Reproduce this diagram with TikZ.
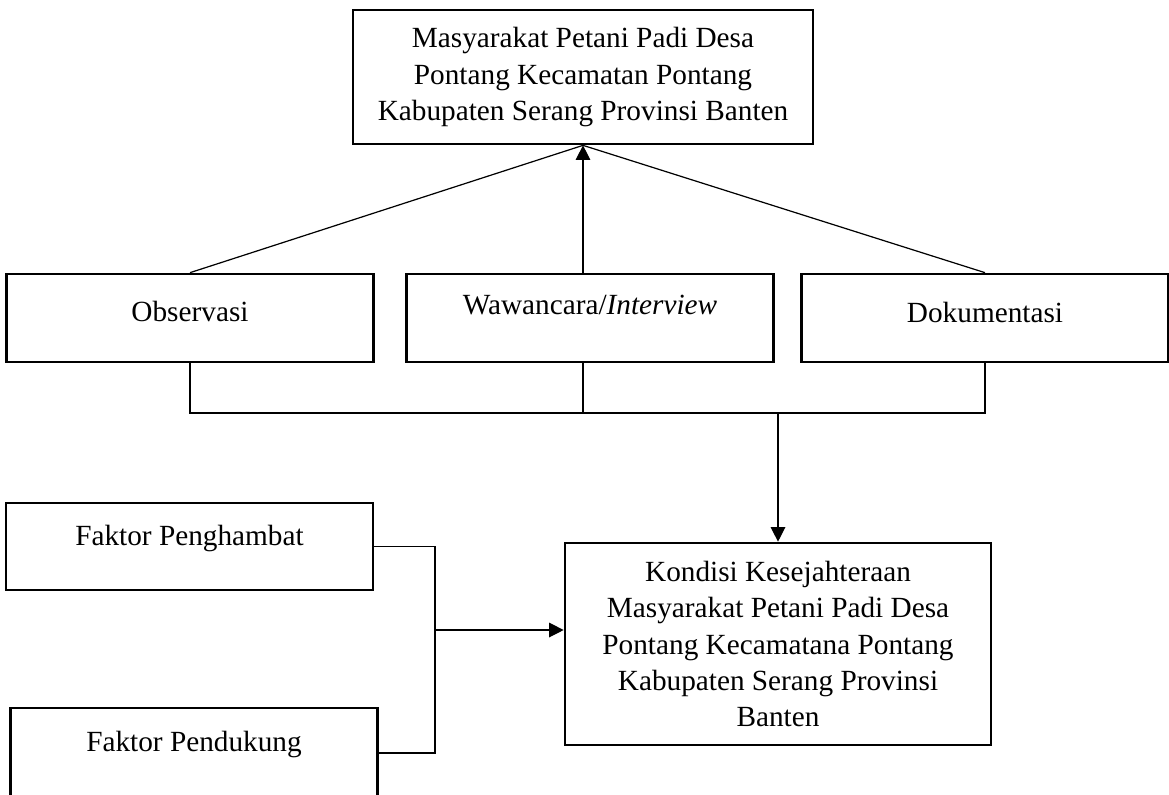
\documentclass[tikz,border=0pt]{standalone}
\usepackage{fontspec}
\setmainfont{Liberation Serif}
\usetikzlibrary{arrows.meta}

\begin{document}
\begin{tikzpicture}[
      x=0.41pt, y=-0.41pt,
      kotak/.style={draw=black, line width=1.1pt, align=center, inner sep=0pt,
        font=\fontsize{12}{14.85}\selectfont},
      satubaris/.style={kotak, minimum width=\B*\px, minimum height=\T*\px, text height=8pt},
      garis/.style={black, line width=0.5pt},
      panah/.style={garis, -{Triangle[length=6pt, width=6pt]}}
    ]
    \def\px{0.41pt} % satu piksel gambar acuan
    \def\B{367}     % lebar kotak kecil
    \def\T{88}      % tinggi kotak kecil
    \useasboundingbox (0,0) rectangle (1169,794);

    % ---------- kotak atas ----------
    \node[kotak, minimum width=460*\px, minimum height=134*\px] (masyarakat) at (583,77)
      {Masyarakat Petani Padi Desa\\Pontang Kecamatan Pontang\\Kabupaten Serang Provinsi Banten};

    % ---------- tiga teknik pengumpulan data ----------
    \node[satubaris, text depth=5pt]    (observasi)   at (190,318) {Observasi};
    \node[satubaris, text depth=10.8pt] (wawancara)   at (590,318) {Wawancara/\textit{Interview}};
    \node[satubaris, text depth=4.2pt]  (dokumentasi) at (985,318) {Dokumentasi};

    \draw[garis] (observasi.north) -- (masyarakat.south);
    \draw[garis] (dokumentasi.north) -- (masyarakat.south);
    \draw[panah] (masyarakat.south |- wawancara.north) -- (masyarakat.south);

    % ---------- kotak hasil ----------
    \node[kotak, minimum width=426*\px, minimum height=202*\px] (kondisi) at (778,644)
      {Kondisi Kesejahteraan\\Masyarakat Petani Padi Desa\\Pontang Kecamatana Pontang\\Kabupaten Serang Provinsi\\Banten};

    % garis penghubung di bawah ketiga kotak
    \coordinate (rel) at (0,413);
    \draw[garis] (observasi.south) -- (observasi.south |- rel)
      -- (dokumentasi.south |- rel) -- (dokumentasi.south);
    \draw[garis] (masyarakat.south |- wawancara.south) -- (masyarakat.south |- rel);
    \draw[panah] (kondisi.north |- rel) -- (kondisi.north);

    % ---------- faktor penghambat dan pendukung ----------
    \node[satubaris, minimum height=87*\px, text depth=9.2pt] (penghambat) at (189.5,546.5) {Faktor Penghambat};
    \node[satubaris, minimum height=90*\px, text depth=9.6pt] (pendukung)  at (194,753) {Faktor Pendukung};

    \coordinate (cabang) at (435,630);
    \draw[garis] (penghambat.east) -- (penghambat.east -| cabang)
      -- (pendukung.east -| cabang) -- (pendukung.east);
    \draw[panah] (cabang) -- (cabang -| kondisi.west);
  \end{tikzpicture}
\end{document}
